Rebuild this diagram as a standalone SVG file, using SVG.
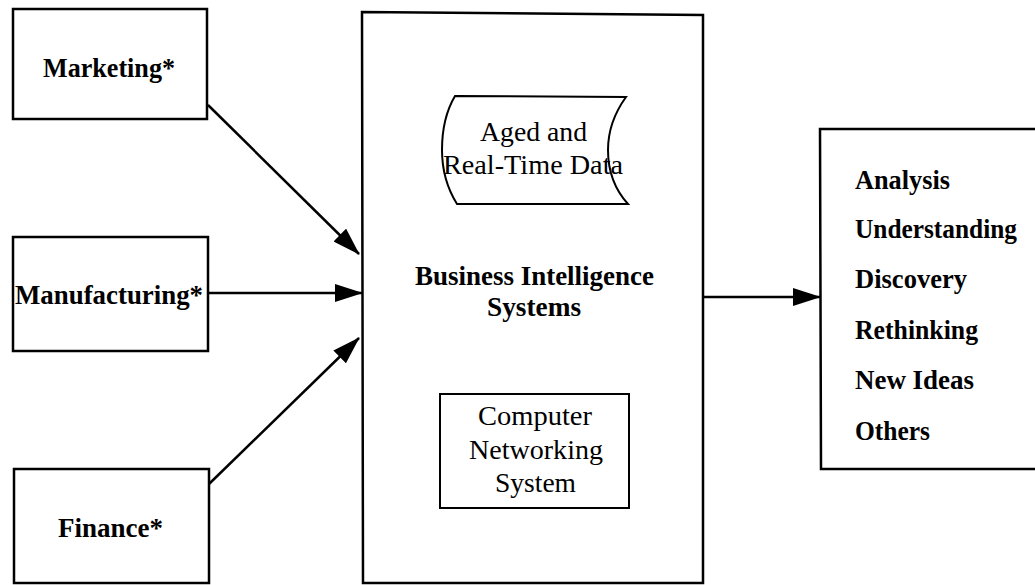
<svg xmlns="http://www.w3.org/2000/svg" width="1035" height="585" viewBox="0 0 1035 585">
  <style>
    .box { fill: #fff; stroke: #000; stroke-width: 2.5; }
    .inner { fill: #fff; stroke: #000; stroke-width: 2; }
    .lbl { font-family: "Liberation Serif", "Times New Roman", serif; font-size: 27px; fill: #000; }
    .b { font-weight: bold; }
    .edge { stroke: #000; stroke-width: 2.5; fill: none; marker-end: url(#arrow); }
  </style>
  <defs>
    <marker id="arrow" viewBox="0 0 28 18" refX="27" refY="9" markerWidth="28" markerHeight="18" markerUnits="userSpaceOnUse" orient="auto">
      <path d="M0,0 L28,9 L0,18 Z" fill="#000"/>
    </marker>
  </defs>
  <rect width="1035" height="585" fill="#fff"/>

  <g id="marketing">
    <rect class="box" x="13" y="9" width="194" height="110"/>
    <text class="lbl b" x="43" y="77" textLength="132" lengthAdjust="spacingAndGlyphs">Marketing*</text>
  </g>
  <g id="manufacturing">
    <rect class="box" x="13" y="237" width="195" height="114"/>
    <text class="lbl b" x="15" y="304" textLength="188" lengthAdjust="spacingAndGlyphs">Manufacturing*</text>
  </g>
  <g id="finance">
    <rect class="box" x="14" y="469" width="195" height="114"/>
    <text class="lbl b" x="58" y="537" textLength="105" lengthAdjust="spacingAndGlyphs">Finance*</text>
  </g>

  <g id="bi-systems">
    <path class="box" d="M362,12 L703,15 L703,583 L363,583 Z"/>
    <text class="lbl b" x="415" y="285" textLength="239" lengthAdjust="spacingAndGlyphs">Business Intelligence</text>
    <text class="lbl b" x="487" y="316" textLength="94" lengthAdjust="spacingAndGlyphs">Systems</text>
  </g>
  <g id="data-store">
    <path class="inner" d="M455,96 L626,97 Q608,122 608,150 Q608,182 628,204 L457,204 Q442,180 442,150 Q442,118 455,96 Z"/>
    <text class="lbl" x="480" y="141" textLength="107" lengthAdjust="spacingAndGlyphs">Aged and</text>
    <text class="lbl" x="443" y="174" textLength="180" lengthAdjust="spacingAndGlyphs">Real-Time Data</text>
  </g>
  <g id="networking">
    <rect class="inner" x="440" y="394" width="189" height="114"/>
    <text class="lbl" x="478" y="425" textLength="114" lengthAdjust="spacingAndGlyphs">Computer</text>
    <text class="lbl" x="469" y="459" textLength="134" lengthAdjust="spacingAndGlyphs">Networking</text>
    <text class="lbl" x="495" y="492" textLength="81" lengthAdjust="spacingAndGlyphs">System</text>
  </g>

  <g id="outcomes">
    <path class="box" d="M1040,129 L820,129 L821,469 L1040,469"/>
    <text class="lbl b" x="855" y="189" textLength="95" lengthAdjust="spacingAndGlyphs">Analysis</text>
    <text class="lbl b" x="855" y="238" textLength="162" lengthAdjust="spacingAndGlyphs">Understanding</text>
    <text class="lbl b" x="855" y="288" textLength="112" lengthAdjust="spacingAndGlyphs">Discovery</text>
    <text class="lbl b" x="855" y="339" textLength="123" lengthAdjust="spacingAndGlyphs">Rethinking</text>
    <text class="lbl b" x="855" y="389" textLength="119" lengthAdjust="spacingAndGlyphs">New Ideas</text>
    <text class="lbl b" x="855" y="440" textLength="75" lengthAdjust="spacingAndGlyphs">Others</text>
  </g>

  <g id="connectors">
    <line class="edge" x1="208" y1="105" x2="359" y2="254"/>
    <line class="edge" x1="208" y1="293" x2="362" y2="293"/>
    <line class="edge" x1="209" y1="484" x2="359" y2="338"/>
    <line class="edge" x1="704" y1="297" x2="820" y2="297"/>
  </g>
</svg>
